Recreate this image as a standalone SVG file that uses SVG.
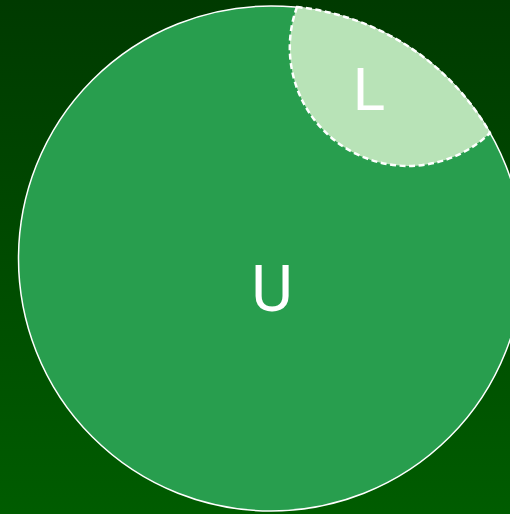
<svg xmlns="http://www.w3.org/2000/svg" width="510" height="514" viewBox="0 0 510 514">
  <defs>
    <linearGradient id="bg" x1="0" y1="0" x2="0" y2="1">
      <stop offset="0" stop-color="#003a00"/>
      <stop offset="1" stop-color="#005c00"/>
    </linearGradient>
  </defs>
  <style>
    .lbl { font-family: Roboto, "Liberation Sans", Arial, sans-serif; font-weight: 400; fill: #ffffff; text-anchor: middle; }
  </style>
  <rect x="0" y="0" width="510" height="514" fill="url(#bg)"/>
  <g id="U">
    <circle cx="271" cy="258.5" r="252.5" fill="#289e4e" stroke="#ffffff" stroke-width="1.5"/>
    <text class="lbl" x="272" y="311" font-size="64">U</text>
  </g>
  <g id="L">
    <path d="M297,7 A118.3,118.3 0 0 0 490,133 A252.5,252.5 0 0 0 297,7 Z" fill="#b8e3b7" stroke="#ffffff" stroke-width="2.5" stroke-dasharray="6,3.5"/>
    <text class="lbl" x="369" y="110" font-size="60">L</text>
  </g>
  <g id="connectors"/>
</svg>
